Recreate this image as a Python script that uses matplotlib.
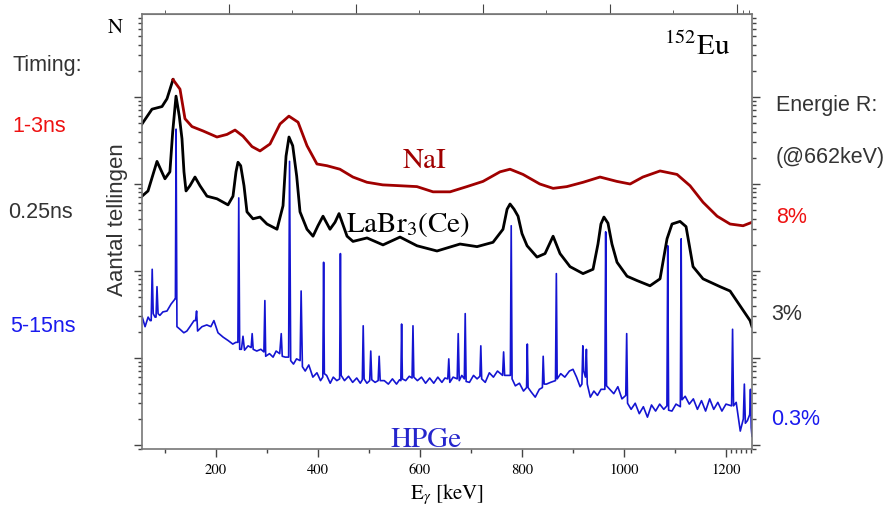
import numpy as np
import matplotlib.pyplot as plt
from matplotlib.ticker import FixedLocator, LogLocator, NullFormatter

plt.rcParams['mathtext.fontset'] = 'stix'

# NaI spectrum: energy (keV) and log10(counts)
nai_e = np.array([55, 74.6, 94.2, 104, 115.8, 129.5, 139.3, 153, 174.6, 202,
                  221.7, 237.4, 253, 270.7, 286.4, 306, 325.6, 343, 361, 378.5,
                  398, 417.7, 443, 468.5, 496, 527, 561, 594, 625.6, 659,
                  692, 723.6, 757, 776.6, 802, 835, 861, 888, 920, 953,
                  986, 1012, 1037, 1070.7, 1104, 1129.5, 1155, 1182.6, 1208, 1233.5,
                  1251])
nai_lg = np.array([3.69, 3.86, 3.89, 3.98, 4.20, 4.09, 3.75, 3.66, 3.61, 3.54,
                   3.57, 3.62, 3.55, 3.43, 3.38, 3.46, 3.69, 3.78, 3.71, 3.44,
                   3.23, 3.21, 3.17, 3.08, 3.02, 2.99, 2.98, 2.97, 2.91, 2.91,
                   2.97, 3.03, 3.14, 3.17, 3.11, 3.00, 2.95, 2.97, 3.02, 3.08,
                   3.03, 3.00, 3.08, 3.15, 3.11, 2.98, 2.79, 2.63, 2.54, 2.52,
                   2.56])

# LaBr3(Ce) spectrum
labr_e = np.array([55, 66.8, 84.4, 100, 109.7, 115.2, 121.7, 128.1, 133.4, 137.3,
                   141.3, 149, 158.9, 168.7, 182.4, 202, 223.6, 233.4, 239.3, 243.2,
                   248.5, 255, 260.8, 272.6, 286.4, 300, 319.7, 331.5, 337.4, 343.2,
                   350.5, 358.3, 364.8, 378.5, 390.3, 400, 409.9, 423.6, 433.4, 441.3,
                   457, 468.7, 496.2, 527.5, 560.9, 594.2, 633.4, 678.5, 711.9, 743.2,
                   762.8, 770.8, 776.6, 784.5, 792.3, 800, 810, 829.5, 845.2, 861,
                   874.6, 894.2, 919.7, 939.3, 949, 954.8, 960.7, 968.6, 976.4, 986.4,
                   1006, 1025.6, 1051, 1070.7, 1084.4, 1094.2, 1109.9, 1121.7, 1135.4, 1155,
                   1188.3, 1208, 1227.6, 1247.2, 1251])
labr_lg = np.array([2.86, 2.92, 3.26, 3.06, 3.14, 3.60, 4.01, 3.78, 3.52, 3.14,
                    2.92, 2.98, 3.08, 2.98, 2.86, 2.83, 2.76, 2.86, 3.14, 3.25,
                    3.21, 2.98, 2.68, 2.60, 2.62, 2.54, 2.48, 2.75, 3.32, 3.54,
                    3.44, 3.09, 2.68, 2.48, 2.40, 2.52, 2.63, 2.48, 2.56, 2.66,
                    2.40, 2.34, 2.38, 2.30, 2.39, 2.29, 2.23, 2.31, 2.28, 2.33,
                    2.48, 2.71, 2.77, 2.71, 2.63, 2.43, 2.29, 2.16, 2.20, 2.40,
                    2.20, 2.05, 1.97, 2.02, 2.31, 2.54, 2.62, 2.55, 2.31, 2.10,
                    1.94, 1.89, 1.83, 1.91, 2.37, 2.54, 2.57, 2.51, 2.05, 1.91,
                    1.82, 1.77, 1.60, 1.43, 1.36])

# HPGe spectrum (energy keV, log10 counts)
hpge = [(55, 1.48), (61, 1.36), (67, 1.47), (71, 1.43), (73, 1.43), (75, 2.02), (77, 1.51),
        (80.5, 1.47), (82.5, 1.47), (84.4, 1.82), (86.5, 1.51), (90, 1.49), (96, 1.53),
        (104, 1.54), (112, 1.62), (120, 1.68), (120.5, 1.68), (121.8, 3.63), (123.5, 1.36),
        (129.5, 1.33), (137, 1.29), (143, 1.31), (149, 1.36), (157, 1.43), (160, 1.43),
        (162, 1.54), (164, 1.31), (172.6, 1.36), (182, 1.38), (190, 1.36), (196, 1.43),
        (204, 1.29), (214, 1.24), (224, 1.20), (233, 1.16), (239, 1.18), (243, 1.18),
        (244.7, 2.84), (246.5, 1.10), (250, 1.10), (253, 1.25), (256, 1.09), (263, 1.14),
        (269, 1.12), (271, 1.28), (273, 1.10), (280, 1.08), (288, 1.10), (294, 1.07),
        (295.9, 1.66), (297.5, 1.02), (305, 1.05), (312, 1.01), (318, 1.08), (325, 1.05),
        (328, 1.28), (330, 1.02), (336, 1.01), (342.5, 1.01), (344.3, 3.26), (346.5, 0.97),
        (352, 0.93), (358, 0.99), (365, 0.97), (367, 1.77), (369.5, 0.90), (375, 0.85),
        (382, 0.92), (390, 0.78), (398, 0.83), (405, 0.74), (409.5, 0.78), (411.1, 2.10),
        (412.5, 0.82), (417, 0.80), (424, 0.71), (430, 0.78), (437, 0.74), (442.5, 0.76),
        (444, 2.20), (445.5, 0.80), (452, 0.74), (460, 0.79), (468, 0.72), (476, 0.77),
        (483, 0.71), (487, 0.75), (488.7, 1.37), (490.5, 0.76), (496, 0.71), (501.5, 0.74),
        (503.5, 1.08), (505.5, 0.75), (512, 0.72), (518, 0.74), (520, 1.02), (522, 0.74),
        (530, 0.74), (538, 0.70), (546, 0.76), (554, 0.70), (560, 0.75), (562.5, 0.74),
        (564, 1.39), (565.5, 0.76), (572, 0.74), (579, 0.79), (584.5, 0.77), (586.3, 1.37),
        (588, 0.78), (595, 0.74), (603, 0.78), (611, 0.71), (619, 0.77), (627, 0.71),
        (635, 0.78), (643, 0.72), (649, 0.77), (654.5, 0.76), (656.5, 0.99), (658.5, 0.72),
        (665, 0.78), (673, 0.76), (675, 1.28), (677, 0.74), (682, 0.80), (687, 0.76),
        (688.7, 1.51), (690.5, 0.73), (697, 0.72), (705, 0.80), (712, 0.76), (717.5, 0.79),
        (719.3, 1.14), (721, 0.76), (728, 0.72), (736, 0.83), (744, 0.78), (752, 0.85),
        (762, 0.80), (764, 1.07), (766, 0.80), (772, 0.80), (777.2, 0.80), (778.9, 2.52),
        (780.6, 0.76), (787, 0.68), (795, 0.71), (803, 0.62), (809, 0.66), (810.5, 1.16),
        (812, 0.66), (818, 0.61), (826, 0.55), (834, 0.64), (840, 0.66), (841.6, 1.02),
        (843.5, 0.70), (848, 0.70), (856, 0.72), (865.7, 0.74), (867.4, 1.97), (869, 0.76),
        (876, 0.82), (884, 0.78), (893, 0.85), (900, 0.87), (907, 0.78), (914, 0.67),
        (917.5, 0.70), (919.3, 1.14), (921, 0.85), (924.5, 0.78), (926.3, 1.10), (928, 0.70),
        (934, 0.55), (941, 0.62), (948, 0.57), (955, 0.64), (962.5, 0.64), (964.1, 2.45),
        (965.8, 0.68), (972, 0.64), (980, 0.59), (988, 0.67), (996, 0.53), (1003.5, 0.57),
        (1005.3, 1.28), (1007, 0.48), (1014, 0.41), (1022, 0.48), (1030, 0.36), (1038, 0.44),
        (1046, 0.32), (1054, 0.46), (1062, 0.39), (1070, 0.47), (1078, 0.41), (1084.2, 0.45),
        (1085.8, 2.29), (1087.5, 0.40), (1094, 0.39), (1102, 0.47), (1110.5, 0.44),
        (1112.1, 2.37), (1113.8, 0.52), (1120, 0.56), (1128, 0.47), (1136, 0.53),
        (1144, 0.41), (1152, 0.51), (1160, 0.39), (1168, 0.53), (1176, 0.41), (1184, 0.49),
        (1192, 0.39), (1200, 0.47), (1211, 0.45), (1212.9, 1.33), (1214.8, 0.45),
        (1220, 0.49), (1228, 0.16), (1234, 0.30), (1236, 0.70), (1238, 0.25), (1242, 0.28),
        (1246.5, 0.35), (1248, 0.64), (1249.5, 0.20), (1251, 0.10)]
hpge_e = np.array([p[0] for p in hpge])
hpge_lg = np.array([p[1] for p in hpge])

x_major = [200, 400, 600, 800, 1000, 1200]
x_minor = [100, 300, 500, 700, 900, 1100, 1210, 1220, 1230, 1240, 1250]
top_major = [225, 474, 723, 972, 1221]
top_minor = [101, 349, 598, 847, 1096, 1233, 1245]

W, H = 888, 506
def fp(x, y):
    return x / W, 1 - y / H

fig = plt.figure(figsize=(8.88, 5.06), dpi=100)
ax = fig.add_axes([142 / W, 1 - 450 / H, 610 / W, 435 / H])

ax.plot(hpge_e, 10 ** hpge_lg, color='#1414d2', lw=1.2)
ax.plot(labr_e, 10 ** labr_lg, color='black', lw=2.0)
ax.plot(nai_e[:5], 10 ** nai_lg[:5], color='black', lw=2.0)
ax.plot(nai_e[4:], 10 ** nai_lg[4:], color='#a00000', lw=2.0)

ax.set_xlim(55, 1251)
ax.set_yscale('log')
ax.set_ylim(10 ** -0.046, 10 ** 4.954)

ax.set_xticks(x_major)
ax.xaxis.set_minor_locator(FixedLocator(x_minor))
ax.yaxis.set_major_locator(LogLocator(base=10))
ax.yaxis.set_minor_locator(LogLocator(base=10, subs=np.arange(2, 10)))
ax.yaxis.set_major_formatter(NullFormatter())
ax.yaxis.set_minor_formatter(NullFormatter())
ax.tick_params(which='both', direction='out', color='#444444', width=1.0,
               left=True, right=True, top=False, labelleft=False)
ax.tick_params(which='major', length=6)
ax.tick_params(which='minor', length=3)
for lab in ax.get_xticklabels():
    lab.set_fontfamily('STIXGeneral')
    lab.set_fontsize(10.5)
for s in ax.spines.values():
    s.set_color('#777777')
    s.set_linewidth(1.2)

sec = ax.secondary_xaxis('top')
sec.set_xticks(top_major)
sec.set_xticklabels([])
sec.xaxis.set_minor_locator(FixedLocator(top_minor))
sec.tick_params(which='both', direction='out', color='#444444')
sec.tick_params(which='major', length=7)
sec.tick_params(which='minor', length=3)
sec.spines['top'].set_color('#777777')

ax.set_xlabel(r'E$_\gamma$ [keV]', fontfamily='STIXGeneral', fontsize=15, labelpad=4)

serif = 'STIXGeneral'
sans = 'Liberation Sans'
fig.text(*fp(115, 28), 'N', family=serif, fontsize=15, ha='center', va='center')
fig.text(*fp(697, 47), r'$^{152}$Eu', family=serif, fontsize=21, ha='center', va='center')
fig.text(*fp(425, 161), 'NaI', family=serif, fontsize=21, color='#a00000', ha='center', va='center')
fig.text(*fp(408, 225), r'LaBr$_3$(Ce)', family=serif, fontsize=21, ha='center', va='center')
fig.text(*fp(426, 440), 'HPGe', family=serif, fontsize=21, color='#2525cc', ha='center', va='center')

fig.text(*fp(118, 220), 'Aantal tellingen', family=sans, fontsize=16, color='#333333',
         rotation=90, ha='center', va='center')
fig.text(*fp(12, 66), 'Timing:', family=sans, fontsize=15.5, color='#333333', va='center')
fig.text(*fp(12, 126), '1-3ns', family=sans, fontsize=15.5, color='#ee1111', va='center')
fig.text(*fp(8, 212), '0.25ns', family=sans, fontsize=15.5, color='#333333', va='center')
fig.text(*fp(10, 327), '5-15ns', family=sans, fontsize=15.5, color='#1a1aee', va='center')

fig.text(*fp(776, 105), 'Energie R:', family=sans, fontsize=15.5, color='#333333', va='center')
fig.text(*fp(776, 157), '(@662keV)', family=sans, fontsize=15.5, color='#333333', va='center')
fig.text(*fp(776, 218), '8%', family=sans, fontsize=15.5, color='#ee1111', va='center')
fig.text(*fp(771, 315), '3%', family=sans, fontsize=15.5, color='#333333', va='center')
fig.text(*fp(771, 420), '0.3%', family=sans, fontsize=15.5, color='#1a1aee', va='center')

fig.savefig('out.png', dpi=100)
